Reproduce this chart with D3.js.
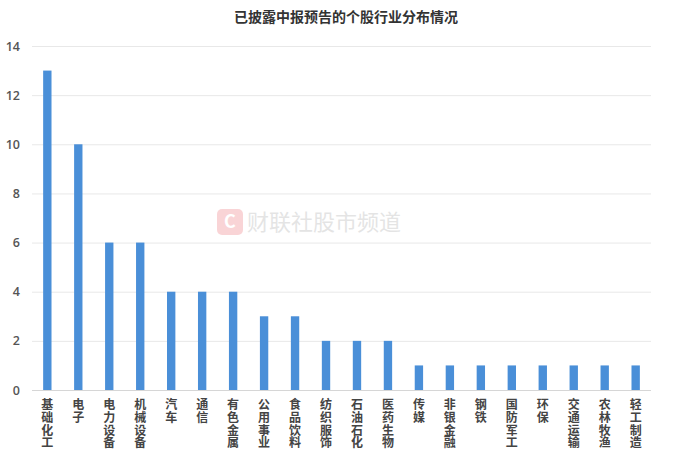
<!DOCTYPE html>
<html>
<head>
<meta charset="utf-8">
<script src="https://cdn.jsdelivr.net/npm/d3@7"></script>
<style>
  body { margin: 0; background: #fff; }
  svg { display: block; font-family: "Noto Sans CJK SC", "Noto Sans", sans-serif; }
</style>
</head>
<body>
<div id="chart"></div>
<script>
// Data
const categories = ['基础化工', '电子', '电力设备', '机械设备', '汽车', '通信', '有色金属', '公用事业', '食品饮料', '纺织服饰',
    '石油石化', '医药生物', '传媒', '非银金融', '钢铁', '国防军工', '环保', '交通运输', '农林牧渔', '轻工制造'];
const counts = [13, 10, 6, 6, 4, 4, 4, 3, 3, 2, 2, 2, 1, 1, 1, 1, 1, 1, 1, 1];
const yTicks = [0, 2, 4, 6, 8, 10, 12, 14];
const title = '已披露中报预告的个股行业分布情况';

const width = 692, height = 461;
const margin = { top: 46, right: 41, bottom: 71, left: 32 };

const svg = d3.select('#chart').append('svg')
    .attr('width', width)
    .attr('height', height);

const x = d3.scaleBand()
    .domain(categories)
    .range([margin.left, width - margin.right])
    .paddingInner(0.73)
    .paddingOuter(0.36);

const y = d3.scaleLinear()
    .domain([0, 14])
    .range([height - margin.bottom, margin.top]);

// Watermark
const wm = svg.append('g').attr('transform', 'translate(230, 222)').attr('opacity', 0.22);
wm.append('rect')
    .attr('x', -13).attr('y', -13).attr('width', 26).attr('height', 26).attr('rx', 5)
    .attr('fill', '#e8414a');
wm.append('text')
    .attr('x', 0).attr('y', 6).attr('text-anchor', 'middle')
    .attr('fill', '#fff').style('font-size', '18px').style('font-weight', 'bold')
    .text('C');
wm.append('text')
    .attr('x', 17).attr('y', 8)
    .attr('fill', '#888').style('font-size', '22px')
    .text('财联社股市频道');

// Grid lines
svg.append('g')
    .selectAll('line')
    .data(yTicks)
    .join('line')
    .attr('x1', margin.left)
    .attr('x2', width - margin.right)
    .attr('y1', d => y(d) + 0.5)
    .attr('y2', d => y(d) + 0.5)
    .attr('stroke', d => d === 0 ? '#d6d6d6' : '#e8e8e8')
    .attr('stroke-width', 1);

// Y axis labels
const yAxis = d3.axisLeft(y).tickValues(yTicks).tickSize(0).tickPadding(0);
svg.append('g')
    .attr('transform', `translate(${margin.left - 12}, 0)`)
    .call(yAxis)
    .call(g => g.select('.domain').remove())
    .selectAll('text')
    .attr('fill', '#555')
    .style('font-family', '"Open Sans", sans-serif')
    .style('font-size', '12.5px')
    .style('font-weight', '600');

// Bars
svg.append('g')
    .selectAll('rect')
    .data(categories)
    .join('rect')
    .attr('x', d => x(d))
    .attr('width', x.bandwidth())
    .attr('y', (d, i) => y(counts[i]))
    .attr('height', (d, i) => y(0) - y(counts[i]))
    .attr('fill', '#4a8fd8');

// Category labels, one character per line
const chars = categories.flatMap(cat => Array.from(cat).map((c, i) => ({ c, i, cat })));
svg.append('g')
    .selectAll('text')
    .data(chars)
    .join('text')
    .attr('x', d => x(d.cat) + x.bandwidth() / 2)
    .attr('y', d => 409 + d.i * 12.8)
    .attr('text-anchor', 'middle')
    .attr('fill', '#444')
    .style('font-size', '12px')
    .style('font-weight', 'bold')
    .text(d => d.c);

// Title
svg.append('text')
    .attr('x', width / 2)
    .attr('y', 22)
    .attr('text-anchor', 'middle')
    .attr('fill', '#333')
    .style('font-size', '14px')
    .style('font-weight', 'bold')
    .text(title);
</script>
</body>
</html>
